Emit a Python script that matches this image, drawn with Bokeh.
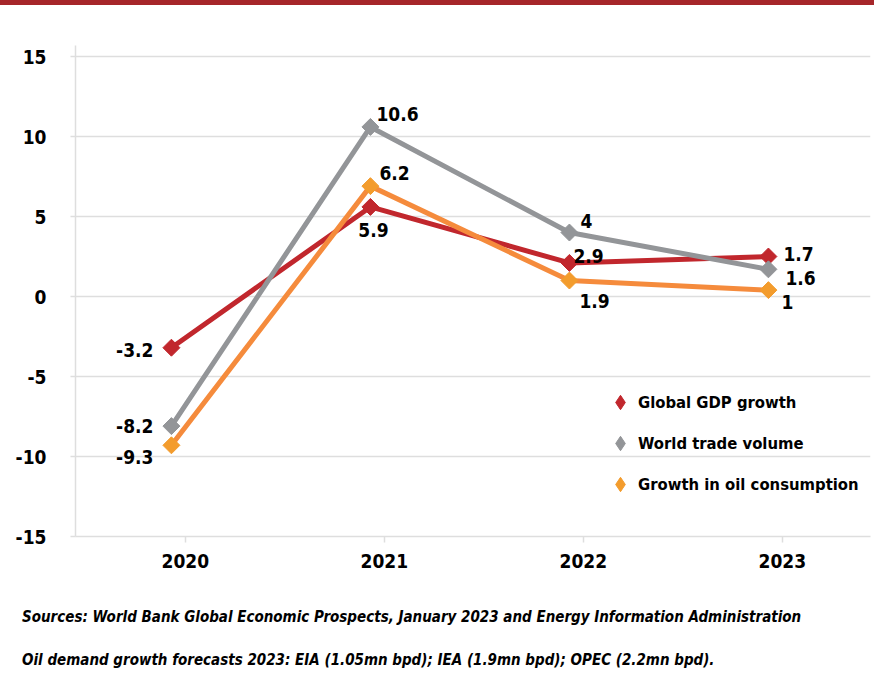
from bokeh.plotting import figure
from bokeh.models import (ColumnDataSource, Legend, LegendItem, FixedTicker,
                          CustomJSTickFormatter, Range1d, Div)
from bokeh.layouts import column
from bokeh.core.properties import value
from bokeh.embed import file_html
from bokeh.resources import INLINE
import math

# ---------------- data ----------------
years = [2020, 2021, 2022, 2023]
gdp_growth = [-3.2, 5.6, 2.1, 2.5]
trade_volume = [-8.1, 10.6, 4.0, 1.7]
oil_growth = [-9.3, 6.9, 1.0, 0.4]

gdp_labels = ["-3.2", "5.9", "2.9", "1.7"]
trade_labels = ["-8.2", "10.6", "4", "1.6"]
oil_labels = ["-9.3", "6.2", "1.9", "1"]

series_names = ["Global GDP growth", "World trade volume", "Growth in oil consumption"]
y_ticks = [-15, -10, -5, 0, 5, 10, 15]

source_note = "Sources: World Bank Global Economic Prospects, January 2023 and Energy Information Administration"
oil_note = "Oil demand growth forecasts 2023: EIA (1.05mn bpd); IEA (1.9mn bpd); OPEC (2.2mn bpd)."

# ---------------- styles ----------------
FONT = "'DejaVu Sans Condensed', 'Liberation Sans Narrow', Roboto, sans-serif"
RED = "#C1272D"
GRAY = "#939598"
ORANGE_LINE = "#F58B3C"
ORANGE_MARK = "#F39C2D"
GRID = "#DEDEDE"
TXT = "19px"

label_style = {
    "gdp": dict(dx=[-18, 3, 4, 15], dy=[2, 23, -7, -3],
                align=["right", "center", "left", "left"]),
    "trade": dict(dx=[-18, 6, 11, 17], dy=[0, -13, -12, 9],
                  align=["right", "left", "left", "left"]),
    "oil": dict(dx=[-18, 9, 10, 13], dy=[12, -13, 20, 12],
                align=["right", "left", "left", "left"]),
}

band = Div(text="", width=874, height=5, margin=0,
           styles={"background-color": "#A6262A"})

p = figure(width=874, height=585, output_backend="svg", toolbar_location=None,
           x_range=Range1d(2019.518, 2023.513), y_range=Range1d(-15, 15.69),
           min_border_left=75, min_border_right=4, min_border_top=40, min_border_bottom=54)
p.outline_line_color = None
p.xgrid.visible = False
p.ygrid.grid_line_color = GRID
p.ygrid.grid_line_width = 1.5

p.yaxis.ticker = FixedTicker(ticks=y_ticks)
p.yaxis.formatter = CustomJSTickFormatter(code="return String(tick);")
p.yaxis.axis_line_color = GRID
p.yaxis.axis_line_width = 1.5
p.yaxis.major_tick_line_color = GRID
p.yaxis.major_tick_line_width = 1.5
p.yaxis.major_tick_out = 5
p.yaxis.major_tick_in = 0
p.yaxis.minor_tick_line_color = None
p.yaxis.major_label_standoff = 24

p.xaxis.ticker = FixedTicker(ticks=[y + 0.07 for y in years])
p.xaxis.formatter = CustomJSTickFormatter(code="return String(Math.round(tick));")
p.xaxis.axis_line_color = GRID
p.xaxis.axis_line_width = 1.5
p.xaxis.major_tick_line_color = GRID
p.xaxis.major_tick_line_width = 1.5
p.xaxis.major_tick_out = 6
p.xaxis.major_tick_in = 0
p.xaxis.minor_tick_line_color = None
p.xaxis.major_label_standoff = 11

for ax in (p.xaxis, p.yaxis):
    ax.major_label_text_font = FONT
    ax.major_label_text_font_style = "bold"
    ax.major_label_text_font_size = TXT
    ax.major_label_text_color = "black"

series = [
    ("gdp", gdp_growth, gdp_labels, RED, RED),
    ("trade", trade_volume, trade_labels, GRAY, GRAY),
    ("oil", oil_growth, oil_labels, ORANGE_LINE, ORANGE_MARK),
]

items = []
for (key, vals, labs, lcol, mcol), name in zip(series, series_names):
    st = label_style[key]
    src = ColumnDataSource(dict(x=years, y=vals, lab=labs, dx=st["dx"], dy=st["dy"],
                                align=st["align"]))
    p.line("x", "y", source=src, line_color=lcol, line_width=5)
    p.scatter("x", "y", source=src, marker="square", angle=math.pi / 4, size=12,
              fill_color=mcol, line_color=mcol)
    # legend swatch only (diamond); its single point is NaN so nothing is drawn in the plot
    sw = p.scatter(x=[float("nan")], y=[float("nan")], marker="diamond",
                   fill_color=mcol, line_color=mcol)
    items.append(LegendItem(label=name, renderers=[sw]))
    p.text("x", "y", text="lab", source=src, x_offset="dx", y_offset="dy",
           text_align="align", text_baseline="middle", text_font=value(FONT),
           text_font_style="bold", text_font_size=TXT, text_color="black")

legend = Legend(items=items, location=(527, 34), orientation="vertical")
legend.label_text_font = FONT
legend.label_text_font_style = "bold"
legend.label_text_font_size = "16.5px"
legend.label_text_color = "black"
legend.glyph_width = 36
legend.glyph_height = 36
legend.label_height = 36
legend.spacing = 5
legend.label_standoff = -1
legend.padding = 0
legend.margin = 0
legend.border_line_color = None
legend.background_fill_alpha = 0
p.add_layout(legend, "center")

# footer notes below the chart
note_css = ("font-family:" + FONT + ";font-weight:bold;font-style:italic;"
            "font-size:15px;line-height:20px;white-space:nowrap;color:black;"
            "padding-left:22px;margin:0;")
foot = Div(
    text=(f'<div style="{note_css}padding-top:17px;">{source_note}</div>'
          f'<div style="{note_css}margin-top:23px;">{oil_note}</div>'),
    width=874, height=110, margin=0)

layout = column(band, p, foot, spacing=0)
open("out.html", "w").write(file_html(layout, INLINE))
